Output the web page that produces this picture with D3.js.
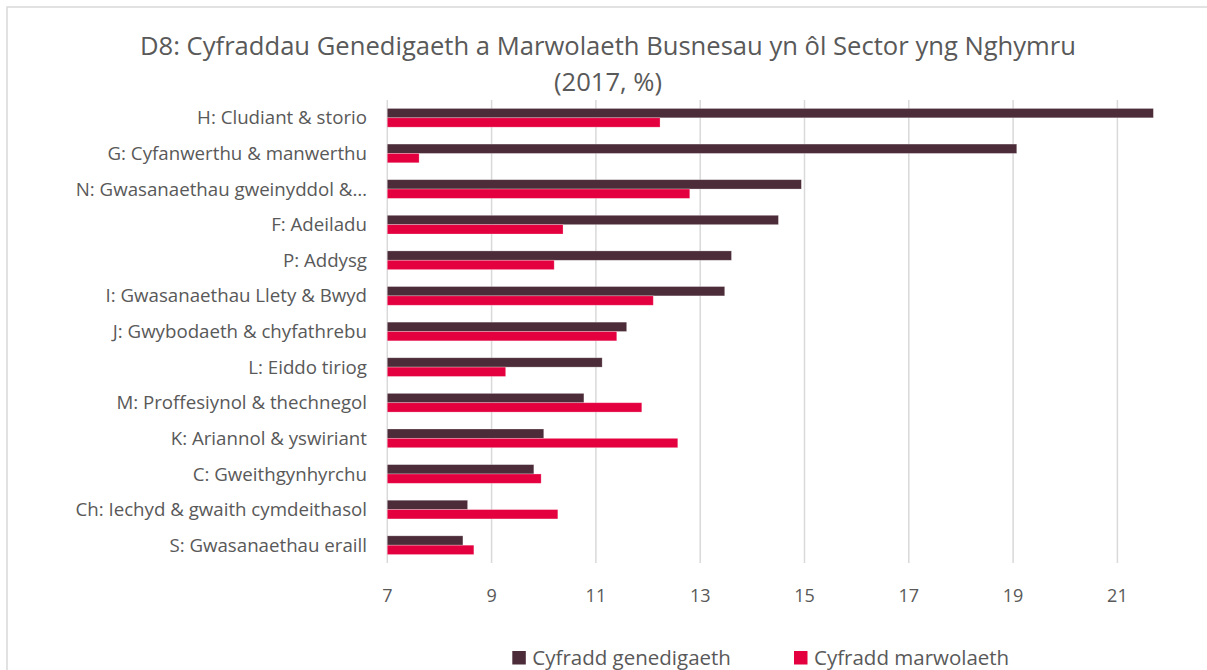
<!DOCTYPE html>
<html>
<head>
<meta charset="utf-8">
<script src="https://cdn.jsdelivr.net/npm/d3@7"></script>
<style>
  body { margin: 0; background: #fff; }
  svg { display: block; font-family: "Open Sans", sans-serif; }
</style>
</head>
<body>
<svg id="chart" width="1207" height="670"></svg>
<script>
// sectors, top to bottom
const sectors = [
  'H: Cludiant & storio',
  'G: Cyfanwerthu & manwerthu',
  'N: Gwasanaethau gweinyddol &…',
  'F: Adeiladu',
  'P: Addysg',
  'I: Gwasanaethau Llety & Bwyd',
  'J: Gwybodaeth & chyfathrebu',
  'L: Eiddo tiriog',
  'M: Proffesiynol & thechnegol',
  'K: Ariannol & yswiriant',
  'C: Gweithgynhyrchu',
  'Ch: Iechyd & gwaith cymdeithasol',
  'S: Gwasanaethau eraill'
];
const birthRate = [21.69, 19.07, 14.94, 14.5, 13.6, 13.47, 11.59, 11.12, 10.77, 10.0, 9.81, 8.54, 8.45];
const deathRate = [12.23, 7.61, 12.8, 10.37, 10.2, 12.1, 11.4, 9.27, 11.88, 12.57, 9.95, 10.27, 8.66];
const seriesNames = ['Cyfradd genedigaeth', 'Cyfradd marwolaeth'];
const xTicks = [7, 9, 11, 13, 15, 17, 19, 21];

const colors = ['#4b2c38', '#e4003f'],
  textColor = '#595959',
  gridColor = '#d9d9d9';

const svg = d3.select('#chart');

// chart border (runs off the right/bottom of the picture)
svg.append('rect')
  .attr('x', 7).attr('y', 7)
  .attr('width', 1230).attr('height', 700)
  .attr('fill', 'none')
  .attr('stroke', gridColor)
  .attr('stroke-width', 1.5);

const plotLeft = 387.3, plotTop = 100, plotBottom = 563;

const x = d3.scaleLinear().domain([7, 23]).range([plotLeft, plotLeft + 16 * 52.15]);
const y = d3.scaleBand().domain(sectors).range([plotTop, plotBottom]);
const barH = 9.35;

// gridlines
svg.append('g')
  .selectAll('line')
  .data(xTicks)
  .join('line')
  .attr('x1', d => x(d)).attr('x2', d => x(d))
  .attr('y1', plotTop).attr('y2', plotBottom)
  .attr('stroke', gridColor)
  .attr('stroke-width', 1.5);

// bars
const rows = sectors.map((s, i) => ({ s, vals: [birthRate[i], deathRate[i]] }));
const groups = svg.append('g')
  .selectAll('g')
  .data(rows)
  .join('g')
  .attr('transform', d => `translate(0,${y(d.s) + y.bandwidth() / 2 - barH})`);

groups.selectAll('rect')
  .data(d => d.vals)
  .join('rect')
  .attr('x', x(7))
  .attr('y', (d, j) => j * barH)
  .attr('width', d => x(d) - x(7))
  .attr('height', barH)
  .attr('fill', (d, j) => colors[j])
  .attr('stroke', '#fff')
  .attr('stroke-opacity', 0.35)
  .attr('stroke-width', 0.75);

// category labels
svg.append('g')
  .selectAll('text')
  .data(sectors)
  .join('text')
  .attr('x', 367)
  .attr('y', d => y(d) + y.bandwidth() / 2)
  .attr('dy', '0.35em')
  .attr('text-anchor', 'end')
  .attr('fill', textColor)
  .style('font-size', '18.7px')
  .text(d => d);

// x tick labels
svg.append('g')
  .selectAll('text')
  .data(xTicks)
  .join('text')
  .attr('x', d => x(d))
  .attr('y', 602)
  .attr('text-anchor', 'middle')
  .attr('fill', textColor)
  .style('font-size', '18px')
  .text(d => d);

// title
const title = svg.append('text')
  .attr('text-anchor', 'middle')
  .attr('fill', textColor)
  .style('font-size', '25.6px');
title.append('tspan').attr('x', 608).attr('y', 55)
  .text('D8: Cyfraddau Genedigaeth a Marwolaeth Busnesau yn ôl Sector yng Nghymru');
title.append('tspan').attr('x', 608).attr('y', 91)
  .text('(2017, %)');

// legend
const legendX = [512.3, 794];
const legend = svg.append('g')
  .selectAll('g')
  .data(seriesNames)
  .join('g')
  .attr('transform', (d, i) => `translate(${legendX[i]},651)`);
legend.append('rect')
  .attr('width', 13.5).attr('height', 13.5)
  .attr('fill', (d, i) => colors[i]);
legend.append('text')
  .attr('x', 20).attr('y', 13.5)
  .attr('fill', textColor)
  .style('font-size', '20.5px')
  .text(d => d);
</script>
</body>
</html>
